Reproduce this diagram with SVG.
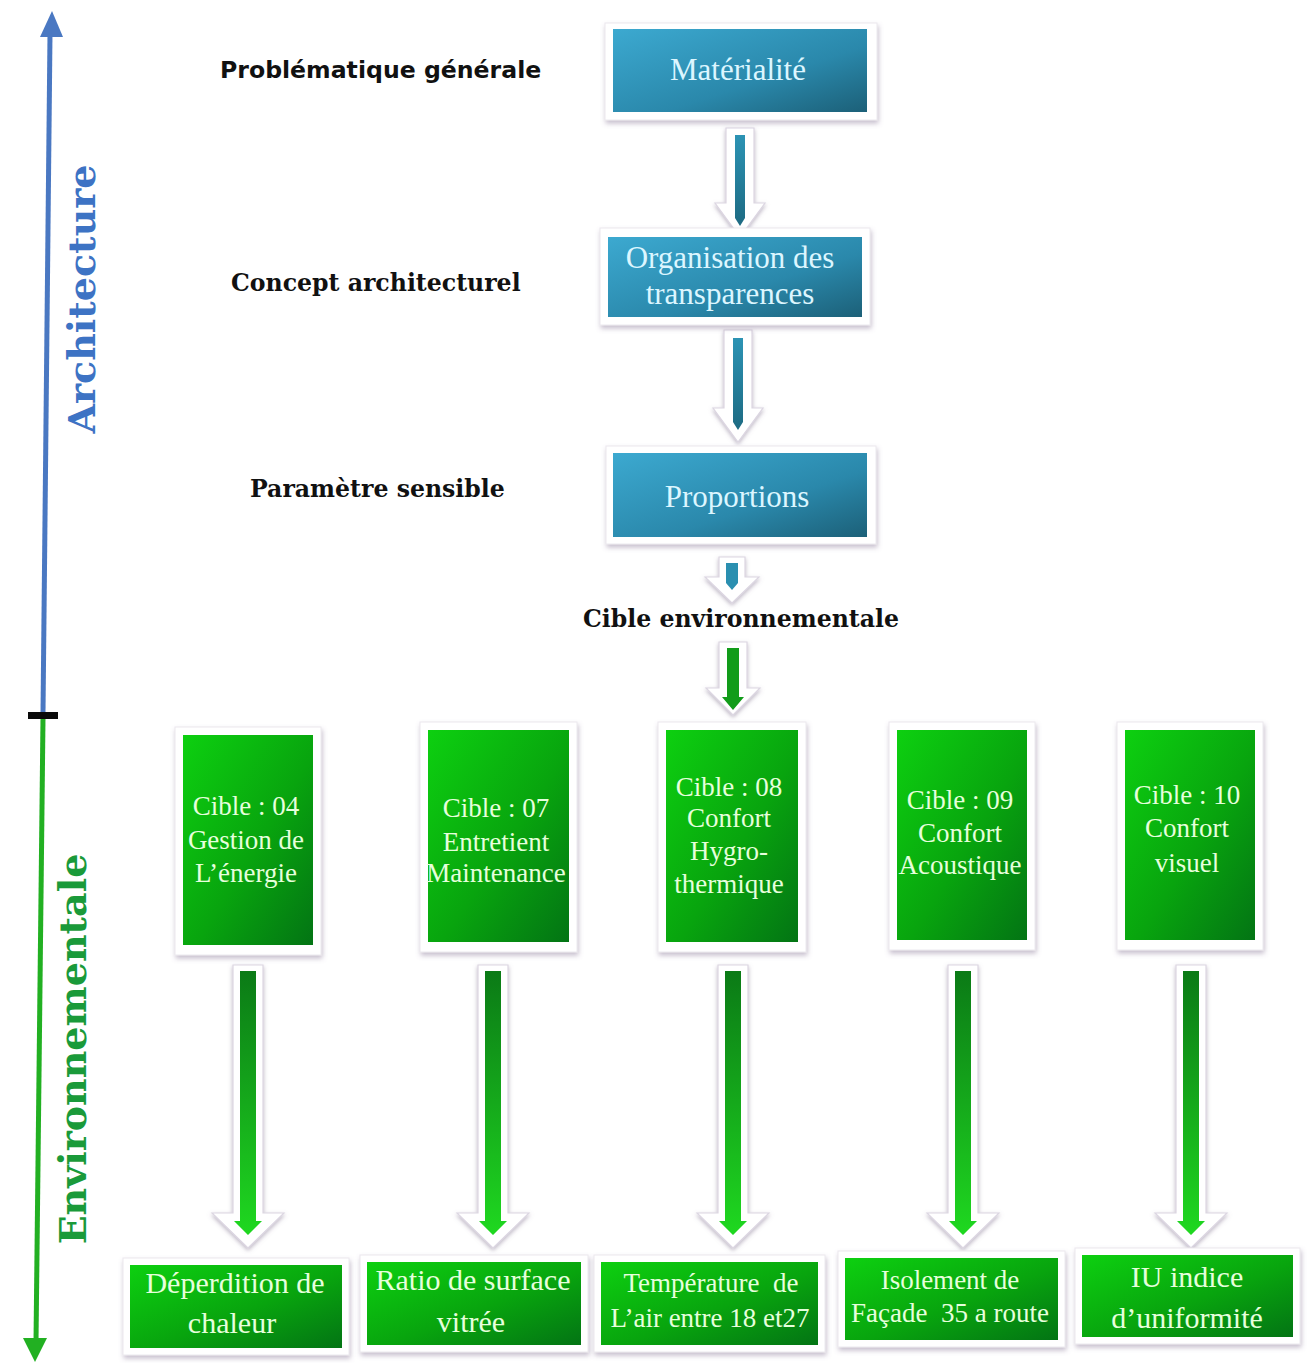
<svg xmlns="http://www.w3.org/2000/svg" width="1307" height="1363" viewBox="0 0 1307 1363">
  <defs>
    <linearGradient id="gBlue" x1="0" y1="0" x2="1" y2="1">
      <stop offset="0" stop-color="#3ca9d0"/>
      <stop offset="0.6" stop-color="#2a88ab"/>
      <stop offset="1" stop-color="#1c6078"/>
    </linearGradient>
    <linearGradient id="gGreen" x1="0" y1="0" x2="1" y2="1">
      <stop offset="0" stop-color="#0dd010"/>
      <stop offset="0.55" stop-color="#08a40e"/>
      <stop offset="1" stop-color="#037414"/>
    </linearGradient>
    <linearGradient id="gTealArrow" x1="0" y1="0" x2="0" y2="1">
      <stop offset="0" stop-color="#2c93b4"/>
      <stop offset="1" stop-color="#1d6a82"/>
    </linearGradient>
    <linearGradient id="gGreenArrow" x1="0" y1="0" x2="0" y2="1">
      <stop offset="0" stop-color="#0b7a16"/>
      <stop offset="1" stop-color="#1fd820"/>
    </linearGradient>
    <filter id="shadow" x="-20%" y="-20%" width="140%" height="150%">
      <feDropShadow dx="1" dy="3" stdDeviation="2.5" flood-color="#806e90" flood-opacity="0.45"/>
    </filter>
    <filter id="softShadow" x="-60%" y="-10%" width="220%" height="130%">
      <feDropShadow dx="0" dy="2" stdDeviation="2" flood-color="#7a6a88" flood-opacity="0.5"/>
    </filter>
    <!-- long green connector, origin at top centre of the outer shape -->
    <g id="longArrow">
      <path d="M-15,0 H15 V248 H36 L0,283 L-36,248 H-15 Z" fill="#ffffff" stroke="#dcd6e2" stroke-width="1.2" filter="url(#softShadow)"/>
      <path d="M-8,6 H8 V256 H14 L0,270 L-14,256 H-8 Z" fill="url(#gGreenArrow)"/>
    </g>
    <style>
      .frame { fill: #ffffff; stroke: #ebe8ee; stroke-width: 1; filter: url(#shadow); }
      .bluebox { fill: url(#gBlue); }
      .greenbox { fill: url(#gGreen); }
      .btxt { font-family: "Liberation Serif", "Times New Roman", serif; font-size: 31px; fill: #dcf6ff; text-anchor: middle; }
      .gtxt { font-family: "Liberation Serif", "Times New Roman", serif; font-size: 27px; fill: #e6ffdc; text-anchor: middle; }
      .gtxt2 { font-family: "Liberation Serif", "Times New Roman", serif; font-size: 30px; fill: #e6ffdc; text-anchor: middle; }
      .lbl { font-family: "DejaVu Serif", "Liberation Serif", serif; font-weight: bold; font-size: 23.6px; fill: #111111; }
      .lblsans { font-family: "DejaVu Sans", "Liberation Sans", sans-serif; font-weight: bold; font-size: 23.6px; fill: #111111; }
      .axis { font-family: "DejaVu Serif", "Liberation Serif", serif; font-weight: bold; font-size: 38px; text-anchor: middle; }
      .hub { stroke: #dcd6e2; stroke-width: 1.2; fill: #ffffff; filter: url(#softShadow); }
    </style>
  </defs>

  <rect width="1307" height="1363" fill="#ffffff"/>

  <!-- vertical scale on the left -->
  <g id="scale">
    <path d="M50,34 L43,713" stroke="#4a78c2" stroke-width="5" fill="none"/>
    <polygon points="52,11 63,37 40,37" fill="#4a78c2"/>
    <path d="M43,718 L36,1342" stroke="#22b022" stroke-width="5" fill="none"/>
    <polygon points="35,1362 23,1338 47,1338" fill="#22b022"/>
    <rect x="28" y="712" width="30" height="7" fill="#0a0a0a"/>
    <text class="axis" fill="#3d73c4" transform="translate(95,299) rotate(-90)">Architecture</text>
    <text class="axis" fill="#1a9a3a" transform="translate(86,1049) rotate(-90)">Environnementale</text>
  </g>

  <!-- row labels -->
  <g id="labels">
    <text class="lblsans" x="220" y="78">Problématique générale</text>
    <text class="lbl" x="231" y="291">Concept architecturel</text>
    <text class="lbl" x="250" y="497">Paramètre sensible</text>
    <text class="lbl" x="741" y="627" font-size="24.4" text-anchor="middle">Cible environnementale</text>
  </g>

  <!-- connectors -->
  <g id="connectors">
    <path class="hub" d="M726,128 H754 V203 H765 L740,237 L715,203 H726 Z"/>
    <path d="M735,135 H745 V218 L740,226 L735,218 Z" fill="url(#gTealArrow)"/>

    <path class="hub" d="M724,330 H752 V408 H763 L738,442 L713,408 H724 Z"/>
    <path d="M733,338 H743 V422 L738,430 L733,422 Z" fill="url(#gTealArrow)"/>

    <path class="hub" d="M719,557 H745 V577 H759 L732,603 L705,577 H719 Z"/>
    <path d="M726,563 H738 V583 L732,590 L726,583 Z" fill="#2a8fb0"/>

    <path class="hub" d="M719,642 H747 V688 H760 L733,715 L706,688 H719 Z"/>
    <path d="M727,648 H739 V697 H744 L733,710 L722,697 H727 Z" fill="#129c1a"/>

    <use href="#longArrow" x="248" y="965"/>
    <use href="#longArrow" x="493" y="965"/>
    <use href="#longArrow" x="733" y="965"/>
    <use href="#longArrow" x="963" y="965"/>
    <use href="#longArrow" x="1191" y="965"/>
  </g>

  <!-- architecture chain -->
  <g id="materialite">
    <rect class="frame" x="605" y="23" width="272" height="97"/>
    <rect class="bluebox" x="613" y="29" width="254" height="83"/>
    <text class="btxt" x="738" y="80">Matérialité</text>
  </g>
  <g id="organisation">
    <rect class="frame" x="600" y="228" width="270" height="97"/>
    <rect class="bluebox" x="608" y="237" width="254" height="80"/>
    <text class="btxt" x="730" y="268">Organisation des</text>
    <text class="btxt" x="730" y="304">transparences</text>
  </g>
  <g id="proportions">
    <rect class="frame" x="606" y="446" width="270" height="98"/>
    <rect class="bluebox" x="613" y="453" width="254" height="84"/>
    <text class="btxt" x="737" y="507">Proportions</text>
  </g>

  <!-- environmental targets -->
  <g id="cible04">
    <rect class="frame" x="175" y="727" width="146" height="228"/>
    <rect class="greenbox" x="183" y="735" width="130" height="210"/>
    <text class="gtxt" x="246" y="815">Cible : 04</text>
    <text class="gtxt" x="246" y="849">Gestion de</text>
    <text class="gtxt" x="246" y="882">L’énergie</text>
  </g>
  <g id="cible07">
    <rect class="frame" x="420" y="722" width="157" height="230"/>
    <rect class="greenbox" x="428" y="730" width="141" height="212"/>
    <text class="gtxt" x="496" y="817">Cible : 07</text>
    <text class="gtxt" x="496" y="851">Entretient</text>
    <text class="gtxt" x="496" y="882">Maintenance</text>
  </g>
  <g id="cible08">
    <rect class="frame" x="658" y="722" width="148" height="230"/>
    <rect class="greenbox" x="666" y="730" width="132" height="212"/>
    <text class="gtxt" x="729" y="796">Cible : 08</text>
    <text class="gtxt" x="729" y="827">Confort</text>
    <text class="gtxt" x="729" y="860">Hygro-</text>
    <text class="gtxt" x="729" y="893">thermique</text>
  </g>
  <g id="cible09">
    <rect class="frame" x="889" y="722" width="146" height="228"/>
    <rect class="greenbox" x="897" y="730" width="130" height="210"/>
    <text class="gtxt" x="960" y="809">Cible : 09</text>
    <text class="gtxt" x="960" y="842">Confort</text>
    <text class="gtxt" x="960" y="874">Acoustique</text>
  </g>
  <g id="cible10">
    <rect class="frame" x="1117" y="722" width="146" height="228"/>
    <rect class="greenbox" x="1125" y="730" width="130" height="210"/>
    <text class="gtxt" x="1187" y="804">Cible : 10</text>
    <text class="gtxt" x="1187" y="837">Confort</text>
    <text class="gtxt" x="1187" y="872" font-size="32">visuel</text>
  </g>

  <!-- indicators -->
  <g id="deperdition">
    <rect class="frame" x="123" y="1258" width="226" height="97"/>
    <rect class="greenbox" x="130" y="1265" width="212" height="83"/>
    <text class="gtxt2" x="235" y="1293">Déperdition de</text>
    <text class="gtxt2" x="232" y="1333">chaleur</text>
  </g>
  <g id="ratio">
    <rect class="frame" x="360" y="1255" width="228" height="97"/>
    <rect class="greenbox" x="367" y="1262" width="214" height="83"/>
    <text class="gtxt2" x="473" y="1290">Ratio de surface</text>
    <text class="gtxt2" x="471" y="1332">vitrée</text>
  </g>
  <g id="temperature">
    <rect class="frame" x="594" y="1255" width="231" height="97"/>
    <rect class="greenbox" x="601" y="1262" width="217" height="83"/>
    <text class="gtxt" x="711" y="1292" font-size="26" xml:space="preserve">Température  de</text>
    <text class="gtxt" x="710" y="1327" font-size="26">L’air entre 18 et27</text>
  </g>
  <g id="isolement">
    <rect class="frame" x="838" y="1251" width="227" height="96"/>
    <rect class="greenbox" x="845" y="1258" width="213" height="82"/>
    <text class="gtxt" x="950" y="1289" font-size="26">Isolement de</text>
    <text class="gtxt" x="950" y="1322" font-size="26" xml:space="preserve">Façade  35 a route</text>
  </g>
  <g id="uniformite">
    <rect class="frame" x="1075" y="1248" width="225" height="96"/>
    <rect class="greenbox" x="1082" y="1255" width="211" height="82"/>
    <text class="gtxt2" x="1187" y="1287">IU indice</text>
    <text class="gtxt2" x="1187" y="1328">d’uniformité</text>
  </g>
</svg>
